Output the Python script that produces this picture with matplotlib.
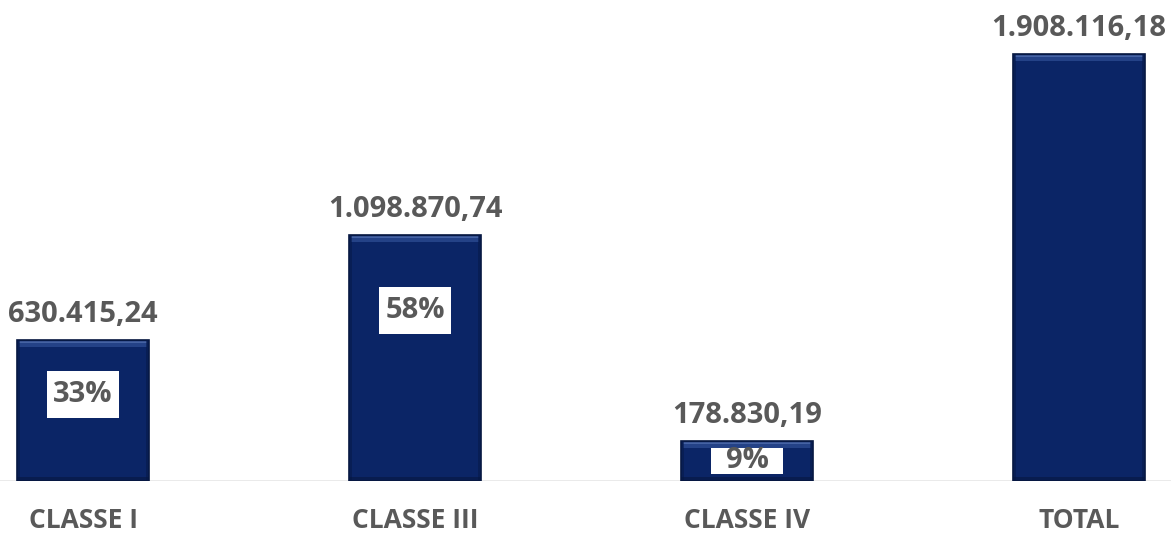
import matplotlib.pyplot as plt
from matplotlib.patches import Rectangle

categories = ["CLASSE I", "CLASSE III", "CLASSE IV", "TOTAL"]
values = [630415.24, 1098870.74, 178830.19, 1908116.18]
value_labels = ["630.415,24", "1.098.870,74", "178.830,19", "1.908.116,18"]
pct_labels = ["33%", "58%", "9%", None]

# where the percentage box sits inside each bar (fraction of bar height)
pct_pos = [0.61, 0.695, 0.5, None]

plt.rcParams['font.family'] = ['Open Sans', 'DejaVu Sans']
GRAY = "#595959"
NAVY = "#0b2566"

fig = plt.figure(figsize=(11.71, 5.34), dpi=100)
ax = fig.add_axes([0, 53 / 534, 1, 481 / 534])

x = list(range(len(categories)))
bars = ax.bar(x, values, width=0.4, color=NAVY, edgecolor="#06173f", linewidth=1.2, zorder=2)

ax.set_xlim(-0.25, 3.277)
ax.set_ylim(0, 2149430)

# pixel -> data helpers for the bevel strips
px_y = 2149430 / 481
px_x = 3.527 / 1171

for b in bars:
    x0, w, h = b.get_x(), b.get_width(), b.get_height()
    # top highlight
    ax.add_patch(Rectangle((x0 + 2 * px_x, h - 7 * px_y), w - 4 * px_x, 5 * px_y,
                           color="#3d5fa8", alpha=0.5, lw=0, zorder=3))
    ax.add_patch(Rectangle((x0 + 2 * px_x, h - 3 * px_y), w - 4 * px_x, 2 * px_y,
                           color="#6f8cc8", alpha=0.45, lw=0, zorder=3))
    # side / bottom shading
    ax.add_patch(Rectangle((x0, 0), 3 * px_x, h, color="#071a4a", alpha=0.6, lw=0, zorder=3))
    ax.add_patch(Rectangle((x0 + w - 3 * px_x, 0), 3 * px_x, h, color="#071a4a", alpha=0.6, lw=0, zorder=3))
    ax.add_patch(Rectangle((x0, 0), w, 4 * px_y, color="#061640", alpha=0.6, lw=0, zorder=3))

box_w, box_h = 72 * px_x, 47 * px_y
for i, b in enumerate(bars):
    xc = b.get_x() + b.get_width() / 2
    ax.annotate(value_labels[i], (xc, b.get_height()),
                xytext=(0, 8), textcoords="offset points", ha="center", va="bottom",
                fontsize=21, fontweight="bold", color=GRAY)
    if pct_labels[i]:
        yc = b.get_height() * pct_pos[i]
        box = Rectangle((xc - box_w / 2, yc - box_h / 2), box_w, box_h,
                        fc="white", ec="none", zorder=4)
        ax.add_patch(box)
        # keep the box inside the bar, a few pixels off its top and bottom
        clip = Rectangle((b.get_x(), 7 * px_y), b.get_width(), b.get_height() - 14 * px_y,
                         transform=ax.transData, visible=False)
        ax.add_patch(clip)
        box.set_clip_path(clip)
        ax.text(xc, yc, pct_labels[i], ha="center", va="center", fontsize=21,
                fontweight="bold", color=GRAY, zorder=5)

ax.axhline(0, color="#e6e6e6", lw=1.2, zorder=1)

ax.set_xticks(x)
ax.set_xticklabels(categories, fontsize=19, fontweight="bold", color=GRAY)
ax.tick_params(axis="x", length=0, pad=19)
ax.set_yticks([])
for s in ax.spines.values():
    s.set_visible(False)

fig.savefig("out.png", dpi=100)
